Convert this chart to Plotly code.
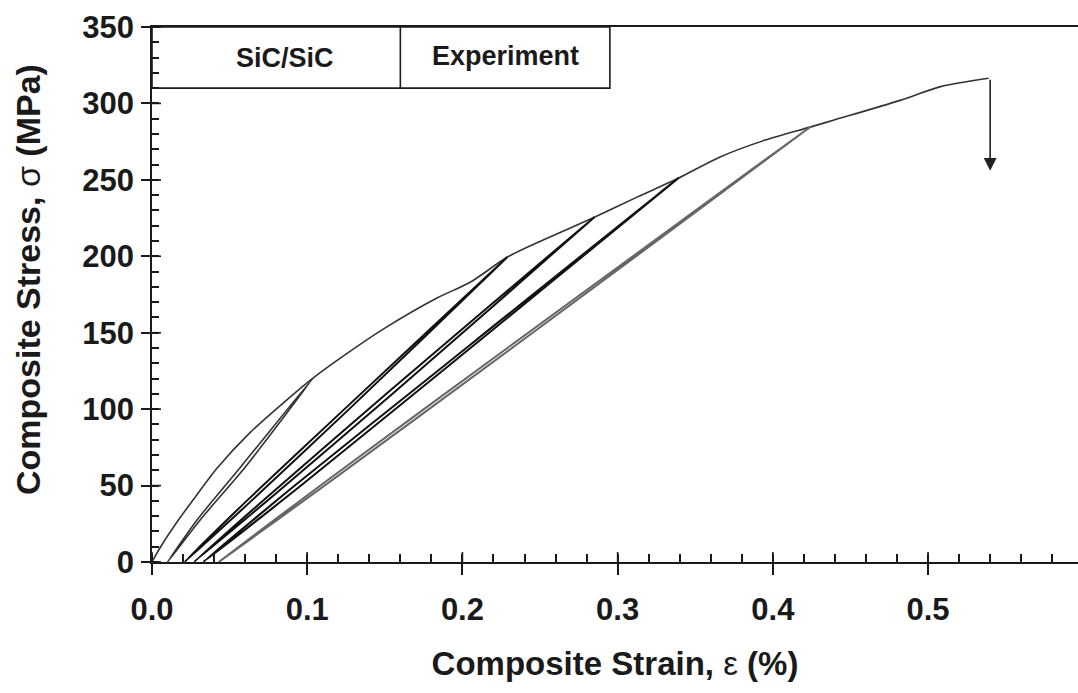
import plotly.graph_objects as go

# ---- data ----
env_x = [0, 0.005, 0.016, 0.0264, 0.042, 0.063, 0.0845, 0.1037, 0.125, 0.15, 0.1836, 0.205,
         0.229, 0.252, 0.285, 0.3125, 0.339, 0.366, 0.395, 0.424, 0.439, 0.482, 0.508, 0.539]
env_y = [0, 9, 26, 40.5, 61.5, 84.5, 104, 120.3, 136, 153, 172.7, 183,
         199.5, 210.6, 225.6, 238.7, 251, 265, 276, 284.5, 289, 302, 311, 316.5]

loop1_x = [0.1037, 0.060, 0.031, 0.010, 0.029, 0.057, 0.1037]
loop1_y = [120.3, 62, 27.5, 0, 27.5, 62, 120.3]
loop2_x = [0.229, 0.127, 0.064, 0.021, 0.061, 0.124, 0.229]
loop2_y = [199.5, 100, 40, 0, 40, 100, 199.5]
loop3_x = [0.285, 0.155, 0.080, 0.027, 0.077, 0.151, 0.285]
loop3_y = [225.6, 110, 45, 0, 45, 110, 225.6]
loop4_x = [0.339, 0.187, 0.096, 0.033, 0.092, 0.184, 0.339]
loop4_y = [251, 125, 50, 0, 50, 125, 251]
loop5_x = [0.424, 0.232, 0.118, 0.043, 0.115, 0.229, 0.424]
loop5_y = [284.5, 140, 55, 0, 55, 140, 284.5]

failure_x = 0.54
failure_top = 316.5
failure_bottom = 256

x_ticks = [0.0, 0.1, 0.2, 0.3, 0.4, 0.5]
x_labels = ["0.0", "0.1", "0.2", "0.3", "0.4", "0.5"]
y_ticks = [0, 50, 100, 150, 200, 250, 300, 350]
y_labels = ["0", "50", "100", "150", "200", "250", "300", "350"]

box_labels = ["SiC/SiC", "Experiment"]

FONT = "Liberation Sans, Arial, sans-serif"
INK = "#1a1a1a"

fig = go.Figure()
fig.add_trace(go.Scatter(x=env_x, y=env_y, mode="lines",
                         line=dict(color="#333", width=1.6, shape="spline", smoothing=0.8),
                         showlegend=False))
for lx, ly, col, w in [(loop1_x, loop1_y, "#333", 1.6), (loop2_x, loop2_y, "#111", 2.0),
                       (loop3_x, loop3_y, "#111", 2.0), (loop4_x, loop4_y, "#111", 2.0),
                       (loop5_x, loop5_y, "#666", 2.0)]:
    fig.add_trace(go.Scatter(x=lx, y=ly, mode="lines",
                             line=dict(color=col, width=w, shape="spline", smoothing=0.6),
                             showlegend=False))

fig.add_annotation(x=failure_x, y=failure_bottom, ax=failure_x, ay=failure_top,
                   xref="x", yref="y", axref="x", ayref="y", showarrow=True,
                   arrowhead=2, arrowsize=1.6, arrowwidth=1.6, arrowcolor="#222", text="")

# legend-style box
fig.add_shape(type="rect", x0=0, x1=0.295, y0=310, y1=350, xref="x", yref="y",
              line=dict(color=INK, width=1.6))
fig.add_shape(type="line", x0=0.16, x1=0.16, y0=310, y1=350, xref="x", yref="y",
              line=dict(color=INK, width=1.6))
fig.add_annotation(x=0.0857, y=330, xref="x", yref="y", text="<b>" + box_labels[0] + "</b>",
                   showarrow=False, font=dict(family=FONT, size=27, color=INK))
fig.add_annotation(x=0.2275, y=331, xref="x", yref="y", text="<b>" + box_labels[1] + "</b>",
                   showarrow=False, font=dict(family=FONT, size=27, color=INK))

# y-axis title (placed slightly above the plot centre, as in the reference)
fig.add_annotation(xref="paper", yref="paper", x=-0.1339, y=0.527, textangle=-90,
                   xanchor="center", yanchor="middle", showarrow=False,
                   text="<b>Composite Stress, </b>σ<b> (MPa)</b>",
                   font=dict(family=FONT, size=34, color=INK))

# inside halves of the crossing major ticks
for t in y_ticks:
    fig.add_shape(type="line", xref="paper", yref="y", x0=0, x1=9 / 926, y0=t, y1=t,
                  line=dict(color=INK, width=1.6))
for t in x_ticks:
    fig.add_shape(type="line", xref="x", yref="paper", x0=t, x1=t, y0=0, y1=10 / 535,
                  line=dict(color=INK, width=1.6))

fig.update_xaxes(range=[0, 0.5966], tickvals=x_ticks, ticktext=x_labels,
                 showline=True, linecolor=INK, linewidth=1.8, mirror=True,
                 ticks="outside", ticklen=11, tickwidth=1.6, tickcolor=INK,
                 minor=dict(ticks="inside", dtick=0.02, ticklen=8, tickwidth=1.6, tickcolor=INK),
                 showgrid=False, zeroline=False, ticklabelstandoff=8,
                 tickfont=dict(family=FONT, size=31, color=INK, weight="bold"),
                 title=dict(text="<b>Composite Strain, </b>ε<b> (%)</b>", standoff=26,
                            font=dict(family=FONT, size=33, color=INK)))
fig.update_yaxes(range=[0, 350], tickvals=y_ticks, ticktext=y_labels,
                 showline=True, linecolor=INK, linewidth=1.8, mirror=False,
                 ticks="outside", ticklen=9, tickwidth=1.6, tickcolor=INK,
                 minor=dict(ticks="inside", dtick=10, ticklen=7, tickwidth=1.6, tickcolor=INK),
                 showgrid=False, zeroline=False, ticklabelstandoff=1,
                 tickfont=dict(family=FONT, size=31, color=INK, weight="bold"))

fig.update_layout(width=1078, height=693, margin=dict(l=152, r=0, t=27, b=131),
                  plot_bgcolor="white", paper_bgcolor="white", showlegend=False)

fig.write_html("out.html")
